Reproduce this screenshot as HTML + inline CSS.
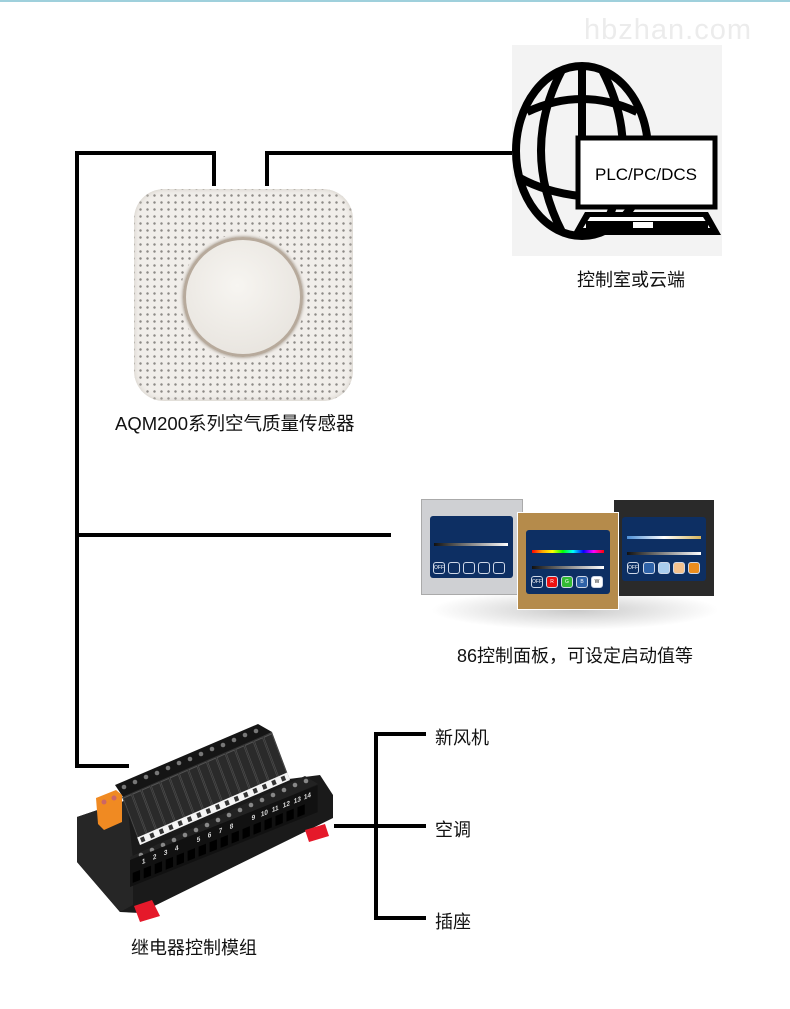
<!DOCTYPE html>
<html><head><meta charset="utf-8"><style>
*{margin:0;padding:0;box-sizing:border-box}
body{width:790px;height:1009px;background:#fff;position:relative;overflow:hidden;font-family:"Liberation Sans","Noto Sans CJK SC",sans-serif;color:#111}
.a{position:absolute}
.l{position:absolute;background:#000}
.t{position:absolute;font-size:18px;white-space:nowrap}
.scr{position:absolute;background:#0d2f63;border-radius:3px}
.btn{position:absolute;width:12px;height:12px;border:1px solid #cfd8e8;border-radius:3px;font-size:5px;color:#fff;text-align:center;line-height:10px}
</style></head><body>
<div class="a" style="left:0;top:0;width:790px;height:2px;background:#9fd0dc"></div>
<div class="t" style="left:584px;top:14px;font-size:29px;color:#ececec;letter-spacing:1px">hbzhan.com</div>

<!-- lines -->
<div class="l" style="left:75px;top:151px;width:4px;height:617px"></div>
<div class="l" style="left:75px;top:151px;width:141px;height:4px"></div>
<div class="l" style="left:212px;top:151px;width:4px;height:35px"></div>
<div class="l" style="left:265px;top:151px;width:4px;height:35px"></div>
<div class="l" style="left:265px;top:151px;width:248px;height:4px"></div>
<div class="l" style="left:75px;top:533px;width:316px;height:4px"></div>
<div class="l" style="left:75px;top:764px;width:54px;height:4px"></div>
<div class="l" style="left:374px;top:732px;width:4px;height:188px"></div>
<div class="l" style="left:374px;top:732px;width:52px;height:4px"></div>
<div class="l" style="left:334px;top:824px;width:92px;height:4px"></div>
<div class="l" style="left:374px;top:916px;width:52px;height:4px"></div>

<!-- computer -->
<div class="a" style="left:512px;top:45px;width:210px;height:211px;background:#f3f3f3"></div>
<svg class="a" style="left:512px;top:45px" width="210" height="211" viewBox="512 45 210 211">
<g fill="none" stroke="#000" stroke-width="8">
<ellipse cx="582" cy="151" rx="66" ry="85"/>
<path d="M562 70 Q520 150 562 232"/>
<path d="M602 70 Q644 150 602 232"/>
<path d="M582 67 L582 200"/>
<path d="M527 112 Q582 86 637 112"/>
<path d="M520 178 Q545 192 580 196"/>
</g>
<rect x="578" y="138" width="137" height="69" fill="#fff" stroke="#000" stroke-width="5"/>
<polygon points="585,212 708,212 721,235 572,235" fill="#000"/>
<polygon points="590,217 703,217 710,228 583,228" fill="#fff"/>
<rect x="586" y="221" width="122" height="9" fill="#000"/>
<rect x="633" y="222" width="20" height="6" fill="#fff"/>
<text x="646" y="180" text-anchor="middle" font-family="Liberation Sans,sans-serif" font-size="17">PLC/PC/DCS</text>
</svg>
<div class="t" style="left:577px;top:266px">控制室或云端</div>

<!-- sensor -->
<div class="a" style="left:134px;top:189px;width:219px;height:212px;border-radius:30px;background:#f1eeea;box-shadow:inset 0 0 6px #cfcac2;
background-image:radial-gradient(circle,#8d8a86 1.1px,transparent 1.4px);background-size:7px 7px;background-position:3px 3px"></div>
<div class="a" style="left:180px;top:234px;width:126px;height:126px;border-radius:50%;background:#f1eeea"></div>
<div class="a" style="left:183px;top:237px;width:120px;height:120px;border-radius:50%;background:radial-gradient(circle at 45% 40%,#f7f5f1,#e4e0da);border:3px solid #b7aa9c;box-shadow:0 0 3px #8c7f70"></div>
<div class="t" style="left:115px;top:410px;font-size:18.5px">AQM200系列空气质量传感器</div>

<!-- panels -->
<div class="a" style="left:430px;top:590px;width:290px;height:40px;background:radial-gradient(ellipse,#bbb,transparent 70%);opacity:.8"></div>
<div class="a" style="left:421px;top:499px;width:102px;height:96px;background:#cfd0d3;border:1px solid #aaa"></div>
<div class="scr" style="left:430px;top:516px;width:83px;height:62px"></div>
<div class="a" style="left:434px;top:543px;width:74px;height:3px;background:linear-gradient(90deg,#111,#fff)"></div>
<div class="btn" style="left:433px;top:562px">OFF</div><div class="btn" style="left:448px;top:562px"></div><div class="btn" style="left:463px;top:562px"></div><div class="btn" style="left:478px;top:562px"></div><div class="btn" style="left:493px;top:562px"></div>
<div class="a" style="left:614px;top:500px;width:100px;height:96px;background:#2a2a2a"></div>
<div class="scr" style="left:622px;top:517px;width:84px;height:64px"></div>
<div class="a" style="left:627px;top:536px;width:74px;height:3px;background:linear-gradient(90deg,#4d8fd6,#fff,#d6b45a)"></div>
<div class="a" style="left:627px;top:552px;width:74px;height:3px;background:linear-gradient(90deg,#111,#fff)"></div>
<div class="btn" style="left:627px;top:562px">OFF</div>
<div class="btn" style="left:643px;top:562px;background:#2e62a8"></div><div class="btn" style="left:658px;top:562px;background:#a9cdee"></div><div class="btn" style="left:673px;top:562px;background:#f4c28e"></div><div class="btn" style="left:688px;top:562px;background:#ec8d1e"></div>
<div class="a" style="left:517px;top:512px;width:102px;height:98px;background:#b58b4b;border:1px solid #fff"></div>
<div class="scr" style="left:526px;top:530px;width:84px;height:64px"></div>
<div class="a" style="left:532px;top:550px;width:72px;height:3px;background:linear-gradient(90deg,red,orange,yellow,lime,cyan,blue,magenta,red)"></div>
<div class="a" style="left:532px;top:566px;width:72px;height:3px;background:linear-gradient(90deg,#111,#fff)"></div>
<div class="btn" style="left:531px;top:576px">OFF</div>
<div class="btn" style="left:546px;top:576px;background:#e11">R</div><div class="btn" style="left:561px;top:576px;background:#3b3">G</div><div class="btn" style="left:576px;top:576px;background:#2e62a8">B</div><div class="btn" style="left:591px;top:576px;background:#fff;color:#000">W</div>
<div class="t" style="left:457px;top:642px">86控制面板，可设定启动值等</div>

<!-- relay -->
<svg class="a" style="left:70px;top:720px" width="270" height="210" viewBox="70 720 270 210">
<!-- base -->
<polygon points="77,817 127,800 320,775 333,795 333,818 140,913 120,912 77,862" fill="#1a1a1a"/>
<polygon points="77,817 127,800 133,860 133,905 120,912 77,862" fill="#262626"/>
<!-- back terminal row -->
<polygon points="115,785 258,724 272,732 125,800" fill="#151515"/>
<g fill="#777">
<circle cx="124" cy="787" r="2.3"/><circle cx="135" cy="782" r="2.3"/><circle cx="146" cy="777" r="2.3"/><circle cx="157" cy="773" r="2.3"/><circle cx="168" cy="768" r="2.3"/><circle cx="179" cy="763" r="2.3"/><circle cx="190" cy="759" r="2.3"/><circle cx="201" cy="754" r="2.3"/><circle cx="212" cy="749" r="2.3"/><circle cx="223" cy="745" r="2.3"/><circle cx="234" cy="740" r="2.3"/><circle cx="245" cy="735" r="2.3"/><circle cx="256" cy="731" r="2.3"/>
</g>
<!-- relays on top face -->
<g transform="matrix(0.75,-0.325,-0.5625,-1.5,140,845)">
<rect x="0" y="0" width="200" height="32" fill="#333"/>
<g fill="#2a2a2a" stroke="#555" stroke-width="0.6">
<rect x="1" y="4" width="10.5" height="27"/><rect x="13.5" y="4" width="10.5" height="27"/><rect x="26" y="4" width="10.5" height="27"/><rect x="38.5" y="4" width="10.5" height="27"/><rect x="51" y="4" width="10.5" height="27"/><rect x="63.5" y="4" width="10.5" height="27"/><rect x="76" y="4" width="10.5" height="27"/><rect x="88.5" y="4" width="10.5" height="27"/><rect x="101" y="4" width="10.5" height="27"/><rect x="113.5" y="4" width="10.5" height="27"/><rect x="126" y="4" width="10.5" height="27"/><rect x="138.5" y="4" width="10.5" height="27"/><rect x="151" y="4" width="10.5" height="27"/><rect x="163.5" y="4" width="10.5" height="27"/><rect x="176" y="4" width="10.5" height="27"/><rect x="188.5" y="4" width="10.5" height="27"/>
</g>
<rect x="0" y="0" width="200" height="5" fill="#f4f4f4"/>
<g fill="#333"><rect x="3" y="1" width="5" height="3"/><rect x="15.5" y="1" width="5" height="3"/><rect x="28" y="1" width="5" height="3"/><rect x="40.5" y="1" width="5" height="3"/><rect x="53" y="1" width="5" height="3"/><rect x="65.5" y="1" width="5" height="3"/><rect x="78" y="1" width="5" height="3"/><rect x="90.5" y="1" width="5" height="3"/><rect x="103" y="1" width="5" height="3"/><rect x="115.5" y="1" width="5" height="3"/><rect x="128" y="1" width="5" height="3"/><rect x="140.5" y="1" width="5" height="3"/><rect x="153" y="1" width="5" height="3"/><rect x="165.5" y="1" width="5" height="3"/><rect x="178" y="1" width="5" height="3"/><rect x="190.5" y="1" width="5" height="3"/></g>
</g>
<!-- front terminal block top dots -->
<polygon points="130,857 305,776 318,784 133,864" fill="#222"/>
<g fill="#888">
<circle cx="141" cy="855" r="2.3"/><circle cx="152" cy="850" r="2.3"/><circle cx="163" cy="845" r="2.3"/><circle cx="174" cy="840" r="2.3"/><circle cx="185" cy="835" r="2.3"/><circle cx="196" cy="830" r="2.3"/><circle cx="207" cy="825" r="2.3"/><circle cx="218" cy="820" r="2.3"/><circle cx="229" cy="815" r="2.3"/><circle cx="240" cy="810" r="2.3"/><circle cx="251" cy="805" r="2.3"/><circle cx="262" cy="800" r="2.3"/><circle cx="273" cy="795" r="2.3"/><circle cx="284" cy="790" r="2.3"/><circle cx="295" cy="785" r="2.3"/><circle cx="306" cy="781" r="2.3"/>
</g>
<!-- front face with numbers -->
<g transform="matrix(0.915,-0.365,0,1,130,860)">
<rect x="0" y="0" width="205" height="27" fill="#111"/>
<g fill="#ddd" font-family="Liberation Sans,sans-serif" font-size="7" font-weight="bold">
<text x="13" y="9">1</text><text x="25" y="9">2</text><text x="37" y="9">3</text><text x="49" y="9">4</text><text x="73" y="9">5</text><text x="85" y="9">6</text><text x="97" y="9">7</text><text x="109" y="9">8</text><text x="133" y="9">9</text><text x="143" y="9">10</text><text x="155" y="9">11</text><text x="167" y="9">12</text><text x="179" y="9">13</text><text x="190" y="9">14</text>
</g>
<g fill="#000"><rect x="3" y="14" width="8" height="10"/><rect x="15" y="14" width="8" height="10"/><rect x="27" y="14" width="8" height="10"/><rect x="39" y="14" width="8" height="10"/><rect x="51" y="14" width="8" height="10"/><rect x="63" y="14" width="8" height="10"/><rect x="75" y="14" width="8" height="10"/><rect x="87" y="14" width="8" height="10"/><rect x="99" y="14" width="8" height="10"/><rect x="111" y="14" width="8" height="10"/><rect x="123" y="14" width="8" height="10"/><rect x="135" y="14" width="8" height="10"/><rect x="147" y="14" width="8" height="10"/><rect x="159" y="14" width="8" height="10"/><rect x="171" y="14" width="8" height="10"/><rect x="183" y="14" width="8" height="10"/></g>
</g>
<!-- orange connector -->
<polygon points="96,798 116,790 122,795 122,822 104,830 98,824" fill="#f08a22"/>
<circle cx="104" cy="802" r="2.5" fill="#c66"/><circle cx="114" cy="798" r="2.5" fill="#c66"/>
<!-- red feet -->
<polygon points="134,906 152,900 160,916 140,922" fill="#e5192a"/>
<polygon points="305,830 325,824 329,836 309,842" fill="#e5192a"/>
</svg>
<div class="t" style="left:131px;top:934px">继电器控制模组</div>

<div class="t" style="left:435px;top:724px">新风机</div>
<div class="t" style="left:435px;top:816px">空调</div>
<div class="t" style="left:435px;top:908px">插座</div>
</body></html>
